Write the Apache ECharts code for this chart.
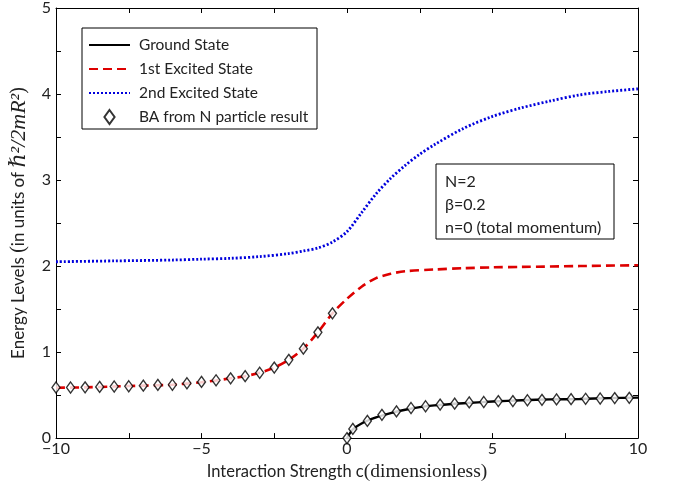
<!DOCTYPE html>
<html lang="en">
<head>
    <meta charset="UTF-8">
    <title>Energy Levels</title>
    <script src="https://cdn.jsdelivr.net/npm/echarts@6/dist/echarts.min.js"></script>
    <style>
        html, body { margin: 0; padding: 0; background: #fff; }
        #main { width: 678px; height: 487px; }
    </style>
</head>
<body>
<div id="main"></div>
<script>
    // ground state curve
    var groundC = [0, 0.2, 0.5, 1, 1.5, 2, 2.5, 3, 4, 5, 6, 7, 8, 9, 10];
    var groundE = [0, 0.1, 0.17, 0.24, 0.29, 0.33, 0.36, 0.38, 0.405, 0.425, 0.44, 0.45, 0.455, 0.465, 0.47];
    // 1st excited state curve
    var firstC = [-10, -9, -8, -7, -6, -5, -4.5, -4, -3.5, -3, -2.5, -2, -1.5, -1, -0.5, 0, 0.5, 1, 1.5, 2, 3, 4, 5, 6, 8, 10];
    var firstE = [0.585, 0.59, 0.6, 0.61, 0.62, 0.65, 0.67, 0.695, 0.72, 0.76, 0.82, 0.91, 1.04, 1.23, 1.45, 1.62, 1.76, 1.86, 1.91, 1.94, 1.96, 1.975, 1.985, 1.99, 2.0, 2.01];
    // 2nd excited state curve
    var secondC = [-10, -8, -6, -5, -4, -3, -2, -1.5, -1, -0.5, 0, 0.5, 1, 1.5, 2, 2.5, 3, 4, 5, 6, 7, 8, 9, 10];
    var secondE = [2.05, 2.06, 2.07, 2.08, 2.09, 2.11, 2.145, 2.175, 2.21, 2.28, 2.40, 2.62, 2.84, 3.02, 3.17, 3.30, 3.41, 3.60, 3.74, 3.84, 3.92, 3.99, 4.03, 4.06];
    // BA points (N particle result)
    var baNegC = [-10, -9.5, -9, -8.5, -8, -7.5, -7, -6.5, -6, -5.5, -5, -4.5, -4, -3.5, -3, -2.5, -2, -1.5, -1, -0.5];
    var baNegE = [0.588, 0.588, 0.59, 0.595, 0.6, 0.603, 0.61, 0.618, 0.62, 0.638, 0.653, 0.672, 0.695, 0.72, 0.76, 0.82, 0.91, 1.04, 1.23, 1.45];
    var baPosC = [0, 0.2, 0.7, 1.2, 1.7, 2.2, 2.7, 3.2, 3.7, 4.2, 4.7, 5.2, 5.7, 6.2, 6.7, 7.2, 7.7, 8.2, 8.7, 9.2, 9.7];
    var baPosE = [0, 0.107, 0.2, 0.27, 0.31, 0.35, 0.37, 0.39, 0.4, 0.415, 0.42, 0.43, 0.43, 0.44, 0.445, 0.45, 0.453, 0.457, 0.46, 0.465, 0.468];

    var legendNames = ['Ground State', '1st Excited State', '2nd Excited State', 'BA from N particle result'];
    var infoLines = ['N=2', 'β=0.2', 'n=0 (total momentum)'];

    function zip(xs, ys) {
        return xs.map(function (x, i) { return [x, ys[i]]; });
    }
    var baPoints = zip(baNegC, baNegE).concat(zip(baPosC, baPosE));

    var font = 'Lato, "Open Sans", sans-serif';
    var serif = '"Liberation Serif", "DejaVu Serif", serif';
    var textColor = '#222';

    function xAxisOf(pos, showLabel) {
        return {
            type: 'value', position: pos, min: -10, max: 10, interval: 2.5,
            axisLine: { onZero: false, lineStyle: { color: '#000', width: 1 } },
            axisTick: { inside: true, length: 5, lineStyle: { color: '#000' } },
            splitLine: { show: false },
            axisLabel: {
                show: showLabel, color: textColor, fontFamily: font, fontSize: 16, margin: 3,
                formatter: function (v) {
                    if (v % 5 !== 0) return '';
                    return v < 0 ? '\u2212' + Math.abs(v) : String(v);
                }
            }
        };
    }
    function yAxisOf(pos, showLabel) {
        return {
            type: 'value', position: pos, min: 0, max: 5, interval: 0.5,
            axisLine: { onZero: false, lineStyle: { color: '#000', width: 1 } },
            axisTick: { inside: true, length: 5, lineStyle: { color: '#000' } },
            splitLine: { show: false },
            axisLabel: {
                show: showLabel, color: textColor, fontFamily: font, fontSize: 16, margin: 5,
                formatter: function (v) { return v % 1 === 0 ? String(v) : ''; }
            }
        };
    }

    var xBottom = xAxisOf('bottom', true);
    xBottom.name = '{s|Interaction Strength c}{m|(dimensionless)}';
    xBottom.nameLocation = 'middle';
    xBottom.nameGap = 21;
    xBottom.nameTextStyle = {
        rich: {
            s: { fontFamily: font, fontSize: 16.5, color: textColor },
            m: { fontFamily: serif, fontSize: 19.5, color: textColor }
        }
    };
    var yLeft = yAxisOf('left', true);
    yLeft.name = '{s|Energy Levels }{m|(}{s|in units of }{i|ℏ²/2mR²}{m|)}';
    yLeft.nameLocation = 'middle';
    yLeft.nameGap = 26;
    yLeft.nameTextStyle = {
        rich: {
            s: { fontFamily: font, fontSize: 17, color: textColor },
            m: { fontFamily: serif, fontSize: 20, color: textColor },
            i: { fontFamily: serif, fontStyle: 'italic', fontSize: 22, color: textColor }
        }
    };

    var hideSymbol = { opacity: 0 };
    var chart = echarts.init(document.getElementById('main'));
    chart.setOption({
        animation: false,
        backgroundColor: '#fff',
        grid: { left: 52, right: 40, top: 6, bottom: 48 },
        xAxis: [xBottom, xAxisOf('top', false)],
        yAxis: [yLeft, yAxisOf('right', false)],
        legend: {
            orient: 'vertical', left: 83, top: 32,
            itemWidth: 41, itemHeight: 14, itemGap: 8,
            symbolKeepAspect: true,
            data: [
                { name: legendNames[0], itemStyle: hideSymbol },
                { name: legendNames[1], itemStyle: hideSymbol },
                { name: legendNames[2], itemStyle: hideSymbol },
                { name: legendNames[3], icon: 'path://M4,0 L8,5.5 L4,11 L0,5.5 Z' }
            ],
            textStyle: { fontFamily: font, fontSize: 15.5, color: textColor, padding: [0, 0, 0, 4] }
        },
        graphic: [
            { type: 'rect', shape: { x: 82, y: 28, width: 235, height: 101 },
              style: { fill: null, stroke: '#000', lineWidth: 1 }, z: 1 },
            { type: 'rect', shape: { x: 436, y: 164, width: 178, height: 75 },
              style: { fill: '#fff', stroke: '#000', lineWidth: 1 }, z: 10 },
            { type: 'text', left: 445, top: 170, z: 11,
              style: { text: infoLines.join('\n'), fontFamily: font, fontSize: 16, lineHeight: 23, fill: textColor } }
        ],
        series: [
            {
                name: legendNames[0], type: 'line', symbol: 'none', smooth: 0.3,
                data: zip(groundC, groundE),
                lineStyle: { color: '#000', width: 2.4 }, itemStyle: { color: '#000' }, z: 3
            },
            {
                name: legendNames[1], type: 'line', symbol: 'none', smooth: 0.3,
                data: zip(firstC, firstE),
                lineStyle: { color: '#dd0000', width: 2.6, type: [9, 5] }, itemStyle: { color: '#dd0000' }, z: 3
            },
            {
                name: legendNames[2], type: 'line', symbol: 'none', smooth: 0.3,
                data: zip(secondC, secondE),
                lineStyle: { color: '#0000dd', width: 2.8, type: [2, 2] }, itemStyle: { color: '#0000dd' }, z: 3
            },
            {
                name: legendNames[3], type: 'scatter', symbol: 'diamond', symbolSize: [8, 11],
                data: baPoints,
                itemStyle: { color: '#fff', borderColor: '#000', borderWidth: 1.4 }, z: 5
            }
        ]
    });
</script>
</body>
</html>
